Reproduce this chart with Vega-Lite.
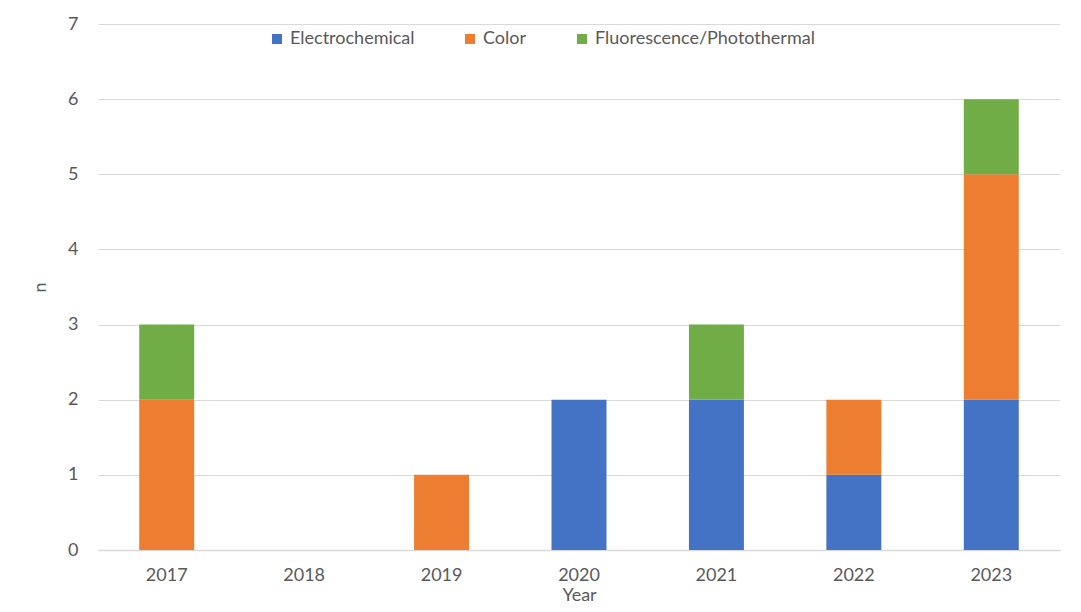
{
  "$schema": "https://vega.github.io/schema/vega-lite/v6.json",
  "width": 962,
  "height": 526,
  "autosize": {"type": "none"},
  "padding": {"left": 98, "top": 24, "right": 21, "bottom": 62},
  "background": "white",
  "data": {
    "values": [
      {"Year": "2017", "Type": "Color", "n": 2, "ord": 2},
      {"Year": "2017", "Type": "Fluorescence/Photothermal", "n": 1, "ord": 3},
      {"Year": "2019", "Type": "Color", "n": 1, "ord": 2},
      {"Year": "2020", "Type": "Electrochemical", "n": 2, "ord": 1},
      {"Year": "2021", "Type": "Electrochemical", "n": 2, "ord": 1},
      {"Year": "2021", "Type": "Fluorescence/Photothermal", "n": 1, "ord": 3},
      {"Year": "2022", "Type": "Electrochemical", "n": 1, "ord": 1},
      {"Year": "2022", "Type": "Color", "n": 1, "ord": 2},
      {"Year": "2023", "Type": "Electrochemical", "n": 2, "ord": 1},
      {"Year": "2023", "Type": "Color", "n": 3, "ord": 2},
      {"Year": "2023", "Type": "Fluorescence/Photothermal", "n": 1, "ord": 3}
    ]
  },
  "mark": {"type": "bar"},
  "encoding": {
    "x": {
      "field": "Year",
      "type": "nominal",
      "scale": {"domain": ["2017", "2018", "2019", "2020", "2021", "2022", "2023"], "paddingInner": 0.6, "paddingOuter": 0.3},
      "axis": {
        "labelAngle": 0,
        "ticks": false,
        "domainColor": "#D9D9D9",
        "domainWidth": 1.5,
        "labelPadding": 16,
        "titlePadding": 2,
        "title": "Year"
      }
    },
    "y": {
      "field": "n",
      "type": "quantitative",
      "aggregate": "sum",
      "stack": "zero",
      "scale": {"domain": [0, 7], "nice": false},
      "axis": {
        "title": "n",
        "values": [0, 1, 2, 3, 4, 5, 6, 7],
        "ticks": false,
        "domain": false,
        "gridColor": "#D9D9D9",
        "labelPadding": 20,
        "titlePadding": 18
      }
    },
    "color": {
      "field": "Type",
      "type": "nominal",
      "scale": {
        "domain": ["Electrochemical", "Color", "Fluorescence/Photothermal"],
        "range": ["#4472C4", "#ED7D31", "#70AD47"]
      },
      "legend": {
        "title": null,
        "orient": "none",
        "direction": "horizontal",
        "legendX": 170,
        "legendY": 6,
        "symbolType": "square",
        "symbolSize": 100,
        "symbolStrokeWidth": 0,
        "columnPadding": 46,
        "labelOffset": 4,
        "labelFontSize": 18,
        "labelLimit": 400,
        "labelColor": "#595959"
      }
    },
    "order": {"field": "ord", "type": "quantitative"}
  },
  "config": {
    "font": "Lato",
    "view": {"stroke": null},
    "axis": {
      "labelFont": "Lato",
      "titleFont": "Lato",
      "labelFontSize": 18,
      "titleFontSize": 18,
      "labelColor": "#595959",
      "titleColor": "#595959",
      "titleFontWeight": "normal"
    },
    "legend": {"labelFont": "Lato"}
  }
}
